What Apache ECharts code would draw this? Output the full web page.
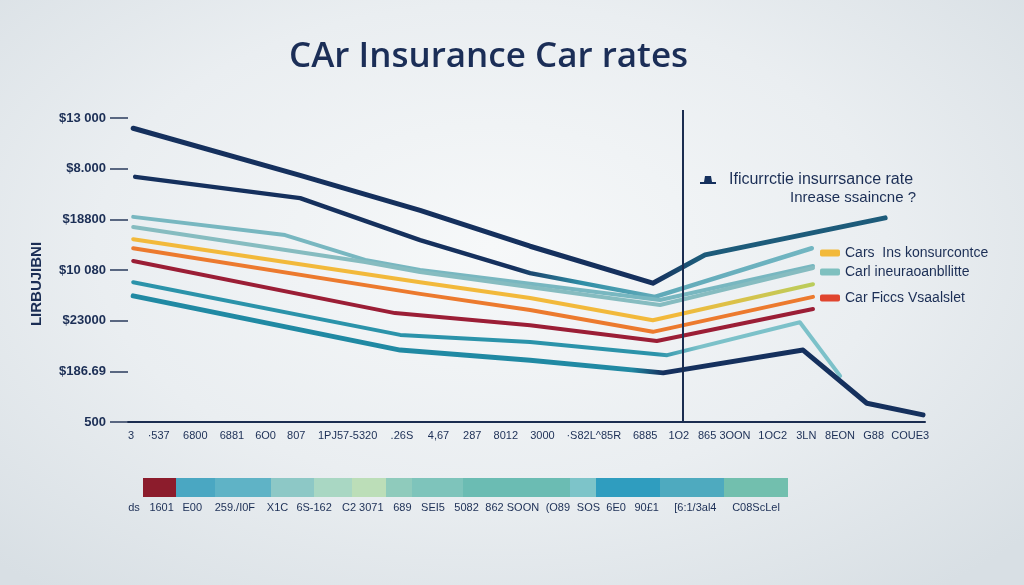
<!DOCTYPE html>
<html><head><meta charset="utf-8">
<script src="https://cdn.jsdelivr.net/npm/echarts@6/dist/echarts.min.js"></script>
<style>
html,body{margin:0;padding:0;}
#c{width:1024px;height:585px;background:radial-gradient(ellipse 70% 75% at 48% 42%, #f6f8f9 0%, #eaeef1 55%, #d8dfe4 100%);}
</style></head><body><div id="c"></div>
<script>
// ---- data ----
const chartTitle = 'CAr Insurance Car rates';
const subNote = 'Inrease ssaincne ?';
const yAxisName = 'LIRBUJIBNI';
const yTickLabels = ['500', '$186.69', '$23000', '$10 080', '$18800', '$8.000', '$13 000'];
const xTickLabels = ['3', '·537', '6800', '6881', '6O0', '807', '1PJ57-5320', '.26S', '4,67', '287', '8012', '3000', '·S82L^85R', '6885', '1O2', '865 3OON', '1OC2', '3LN', '8EON', 'G88', 'COUE3'];
const barTickLabels = ['ds', '1601', 'E00', '259./I0F', 'X1C', '6S-162', 'C2 3071', '689', 'SEI5', '5082', '862 SOON', '(O89', 'SOS', '6E0', '90£1', '[6:1/3al4', 'C08ScLel'];

const nameA = 'Ificurrctie insurrsance rate';
const nameE = 'Cars  Ins konsurcontce';
const nameC = 'Carl ineuraoanbllitte';
const nameF = 'Car Ficcs Vsaalslet';

const seriesA = [[0.13, 5.80], [4.32, 4.87], [7.33, 4.18], [10.09, 3.47], [13.17, 2.74], [14.48, 3.30], [19.0, 4.03]];
const seriesB = [[0.18, 4.84], [4.32, 4.42], [7.33, 3.59], [10.09, 2.94], [13.22, 2.47], [17.16, 3.43]];
const seriesC = [[0.13, 4.05], [3.94, 3.69], [5.95, 3.20], [7.33, 3.00], [13.35, 2.41], [17.19, 3.08]];
const seriesD = [[0.13, 3.85], [5.95, 3.16], [7.33, 2.96], [13.35, 2.31], [17.19, 3.04]];
const seriesE = [[0.13, 3.61], [7.33, 2.76], [10.09, 2.45], [13.17, 2.01], [17.19, 2.72]];
const seriesF = [[0.13, 3.43], [7.33, 2.53], [10.09, 2.21], [13.17, 1.78], [17.19, 2.47]];
const seriesG = [[0.13, 3.18], [6.70, 2.15], [10.09, 1.91], [13.27, 1.60], [17.19, 2.23]];
const seriesH = [[0.13, 2.76], [6.83, 1.72], [10.09, 1.58], [13.53, 1.32], [16.86, 1.97], [17.87, 0.91]];
const seriesI = [[0.13, 2.49], [6.83, 1.42], [10.09, 1.22], [13.43, 0.97], [16.94, 1.42], [18.54, 0.37], [19.95, 0.14]];
const markerX = 13.93;

const colorBarWidths = [33, 39, 56, 43, 38, 34, 26, 51, 107, 26, 64, 64, 64];

// ---- build ----
const barColors = ['#8c1c2c', '#4aa7c2', '#5fb3c6', '#8dc8c6', '#a9d7c3', '#bcdeb8', '#8fcbbc', '#7ec4bb', '#6bbcb3', '#7dc4c9', '#2f9dbf', '#4eaabf', '#72bfae'];

function layoutTokens(tokens, gap) {
  let pos = 0; const centers = []; const map = {};
  tokens.forEach(t => { const c = pos + t.length / 2; centers.push(c); map[c.toFixed(3)] = t; pos += t.length + gap; });
  return { centers, map, total: pos - gap };
}
const xLay = layoutTokens(xTickLabels, 2.2);
const bLay = layoutTokens(barTickLabels, 1.6);
const barTotal = colorBarWidths.reduce((a, b) => a + b, 0);

const G = echarts.graphic.LinearGradient;
const grad = (stops) => new G(0, 0, 1, 0, stops.map(s => ({ offset: s[0], color: s[1] })));
const navy = '#15305d';
const txt = '#1b2e55';
const narrow = 'Liberation Sans Narrow, Liberation Sans, Arial, sans-serif';

function lineSeries(name, data, color, width, lineColor) {
  return {
    type: 'line', name, data, xAxisIndex: 0, yAxisIndex: 0, symbol: 'none', silent: true,
    itemStyle: { color }, lineStyle: { color: lineColor || color, width, cap: 'round', join: 'round' }, z: 3
  };
}

const series = [
  lineSeries(nameA, seriesA, navy, 5, grad([[0, navy], [0.69, navy], [0.75, '#1d5b7a'], [1, '#1d5b7a']])),
  lineSeries('B', seriesB, navy, 4.5, grad([[0, navy], [0.56, navy], [0.66, '#2f8ea6'], [0.76, '#5fa9b8'], [1, '#72b6c2']])),
  lineSeries(nameC, seriesC, '#78b7c0', 4),
  lineSeries('D', seriesD, '#86bcc0', 4),
  lineSeries(nameE, seriesE, '#f2b93b', 4, grad([[0, '#f2b93b'], [0.8, '#f2b93b'], [1, '#b9cd5c']])),
  lineSeries(nameF, seriesF, '#ec7a2e', 4),
  lineSeries('G', seriesG, '#9b1e36', 4),
  lineSeries('H', seriesH, '#2b93aa', 4, grad([[0, '#2b93aa'], [0.74, '#2b93aa'], [0.8, '#7cc1c9'], [1, '#7cc1c9']])),
  lineSeries('I', seriesI, '#2089a3', 5, grad([[0, '#2089a3'], [0.63, '#2089a3'], [0.67, navy], [1, navy]]))
];
series[0].markLine = {
  silent: true, symbol: ['none', 'none'], label: { show: false },
  lineStyle: { color: '#1b2d50', width: 2, type: 'solid' }, data: [{ xAxis: markerX }]
};
colorBarWidths.forEach((w, i) => {
  series.push({
    type: 'bar', name: 'seg' + i, stack: 'bar', xAxisIndex: 2, yAxisIndex: 1, data: [w], barWidth: 19,
    itemStyle: { color: barColors[i] }, silent: true
  });
});

const legendText = { color: txt, fontSize: 14, fontFamily: 'Liberation Sans, Arial, sans-serif' };
function oneLegend(name, color, left, top, icon, w, h) {
  return {
    data: [{ name, icon, itemStyle: { color } }], left, top, selectedMode: false,
    itemWidth: w, itemHeight: h, itemGap: 0, textStyle: legendText, padding: 0
  };
}

const option = {
  animation: false,
  title: [
    { text: chartTitle, left: 284, top: 35, textStyle: { fontSize: 35, fontWeight: 600, fontFamily: 'Open Sans, sans-serif', color: '#1b2e57' } },
    { text: subNote, right: 108, top: 190, padding: 0, textStyle: { fontSize: 15, fontWeight: 'normal', fontFamily: 'Liberation Sans, Arial, sans-serif', color: txt } }
  ],
  legend: [
    Object.assign(oneLegend(nameA, navy, 700, 172, 'path://M0,8 L16,8 L16,6 L12,6 L11,0 L5,0 L4,6 L0,6 Z', 16, 8), { textStyle: Object.assign({}, legendText, { fontSize: 16, padding: [0, 0, 0, 8] }) }),
    oneLegend(nameE, '#f2b93b', 820, 246, 'roundRect', 20, 7),
    oneLegend(nameC, '#7fc0bf', 820, 265, 'roundRect', 20, 7),
    oneLegend(nameF, '#e0452e', 820, 291, 'roundRect', 20, 7)
  ],
  grid: [
    { left: 128, right: 99, top: 110, bottom: 163 },
    { left: 143, width: barTotal, top: 478, height: 19 },
    { left: 128, right: 244, top: 478, height: 19 }
  ],
  xAxis: [
    { gridIndex: 0, type: 'value', min: 0, max: 20, axisLine: { show: true, lineStyle: { color: '#1b2d50', width: 2 } }, axisTick: { show: false }, axisLabel: { show: false }, splitLine: { show: false } },
    { gridIndex: 0, type: 'value', min: 0, max: xLay.total, position: 'bottom', axisLine: { show: false }, axisTick: { show: false }, splitLine: { show: false },
      axisLabel: { customValues: xLay.centers, formatter: v => xLay.map[Number(v).toFixed(3)] || '', margin: 8, fontSize: 11, color: txt, fontFamily: narrow, hideOverlap: false } },
    { gridIndex: 1, type: 'value', min: 0, max: barTotal, show: false },
    { gridIndex: 2, type: 'value', min: 0, max: bLay.total, position: 'bottom', axisLine: { show: false }, axisTick: { show: false }, splitLine: { show: false },
      axisLabel: { customValues: bLay.centers, formatter: v => bLay.map[Number(v).toFixed(3)] || '', margin: 5, fontSize: 11, color: txt, fontFamily: narrow, hideOverlap: false } }
  ],
  yAxis: [
    { gridIndex: 0, type: 'value', min: 0, max: 6.16, axisLine: { show: false }, splitLine: { show: false },
      axisTick: { show: true, length: 18, customValues: [0, 1, 2, 3, 4, 5, 6], lineStyle: { color: '#2a3b5c', width: 1.5 } },
      axisLabel: { customValues: [0, 1, 2, 3, 4, 5, 6], formatter: v => yTickLabels[Math.round(v)], margin: 22, fontSize: 13, fontWeight: 'bold', color: txt, fontFamily: narrow },
      name: yAxisName, nameLocation: 'middle', nameGap: 84, nameRotate: 90,
      nameTextStyle: { fontSize: 15, fontWeight: 'bold', color: txt, fontFamily: narrow, padding: [0, 36, 0, 0] } },
    { gridIndex: 1, type: 'category', data: ['band'], show: false },
    { gridIndex: 2, type: 'value', show: false }
  ],
  series
};
const chart = echarts.init(document.getElementById('c'), null, { renderer: 'canvas' });
chart.setOption(option);
</script></body></html>
